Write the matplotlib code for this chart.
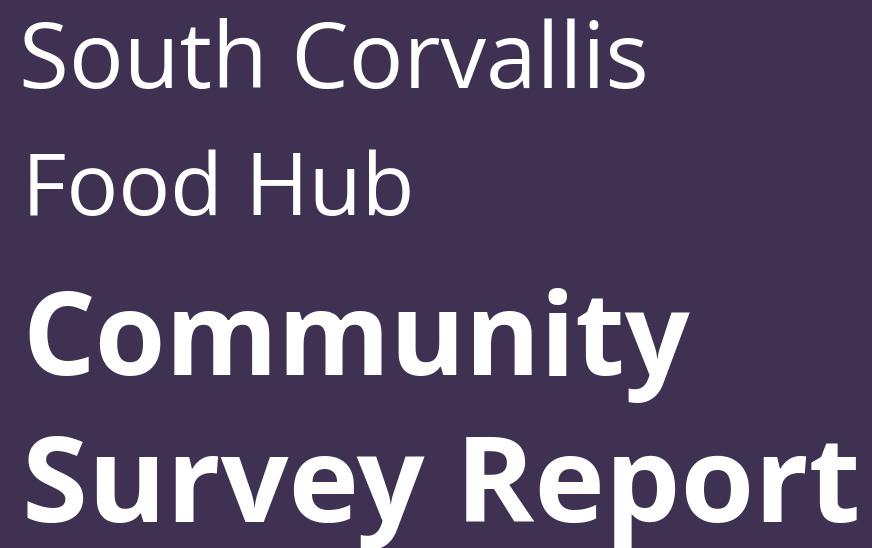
import matplotlib as mpl
mpl.use('Agg')
import matplotlib.pyplot as plt

W, H = 872, 548
bg = "#3f3152"
fg = "#ffffff"
family = "Open Sans"

# title lines: text, weight, left x, baseline y (px from top), target width
lines = ["South Corvallis", "Food Hub", "Community", "Survey Report"]
weights = ["normal", "normal", "bold", "bold"]
left_x = [19, 22, 22, 22]
baseline_y = [88, 215, 375, 522]
widths = [629, 393, 668, 838]

fig = plt.figure(figsize=(W / 100, H / 100), dpi=100, facecolor=bg)
ax = fig.add_axes([0, 0, 1, 1])
ax.set_xlim(0, W)
ax.set_ylim(H, 0)
ax.axis("off")
ax.set_facecolor(bg)

fig.canvas.draw()
r = fig.canvas.get_renderer()
for txt, wt, x, y, w in zip(lines, weights, left_x, baseline_y, widths):
    t = ax.text(x, y, txt, color=fg, fontsize=60, fontweight=wt, family=family,
                ha="left", va="baseline")
    bb = t.get_window_extent(renderer=r)
    t.set_fontsize(60 * w / bb.width)

fig.savefig("out.png", dpi=100, facecolor=bg)
